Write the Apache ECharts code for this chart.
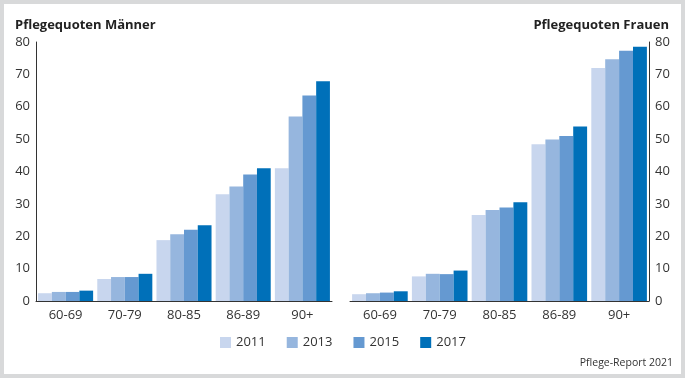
<!DOCTYPE html>
<html>
<head>
<meta charset="utf-8">
<script src="https://cdn.jsdelivr.net/npm/echarts@6/dist/echarts.min.js"></script>
<style>
  body { margin: 0; background: #d8d9da; }
  #chart {
    width: 685px;
    height: 378px;
    background: #fff;
    box-shadow: inset 0 0 0 4px #d8d9da; /* grauer Rahmen */
  }
</style>
</head>
<body>
<div id="chart"></div>
<script>
  const ageGroups = ['60-69', '70-79', '80-85', '86-89', '90+']
  const years = ['2011', '2013', '2015', '2017']
  const yearColors = ['#c8d6ee', '#96b6de', '#6599d1', '#0070b9']

  // Pflegequoten Männer, je Jahr
  const men2011 = [2.4, 6.8, 18.8, 33.0, 41.0]
  const men2013 = [2.8, 7.4, 20.6, 35.4, 57.0]
  const men2015 = [2.8, 7.4, 22.0, 39.1, 63.5]
  const men2017 = [3.2, 8.4, 23.4, 41.0, 67.9]

  // Pflegequoten Frauen, je Jahr
  const women2011 = [2.1, 7.6, 26.6, 48.4, 72.0]
  const women2013 = [2.4, 8.4, 28.1, 49.9, 74.7]
  const women2015 = [2.6, 8.3, 28.9, 51.0, 77.3]
  const women2017 = [3.0, 9.4, 30.5, 53.9, 78.5]

  const yTicks = [0, 10, 20, 30, 40, 50, 60, 70, 80]

  const menData = [men2011, men2013, men2015, men2017]
  const womenData = [women2011, women2013, women2015, women2017]

  const font = 'Open Sans'
  const axisColor = '#333'

  function xAxisFor(gridIndex) {
    return {
      type: 'category',
      gridIndex: gridIndex,
      data: ageGroups,
      axisLine: { show: true, lineStyle: { color: axisColor, width: 1 } },
      axisTick: { show: false },
      axisLabel: { color: '#333', fontSize: 13, fontFamily: font, margin: 8 },
    }
  }

  function yAxisFor(gridIndex, pos) {
    return {
      type: 'value',
      gridIndex: gridIndex,
      position: pos,
      min: yTicks[0],
      max: yTicks[yTicks.length - 1],
      interval: 10,
      axisLine: { show: true, lineStyle: { color: axisColor, width: 1 } },
      axisTick: { show: false },
      splitLine: { show: false },
      axisLabel: { color: '#333', fontSize: 13, fontFamily: font, margin: 6 },
    }
  }

  const series = []
  years.forEach((y, i) => {
    series.push({
      name: y,
      type: 'bar',
      xAxisIndex: 0,
      yAxisIndex: 0,
      data: menData[i],
      itemStyle: { color: yearColors[i] },
      barGap: '0%',
      barCategoryGap: '7%',
      silent: true,
    })
  })
  years.forEach((y, i) => {
    series.push({
      name: y,
      type: 'bar',
      xAxisIndex: 1,
      yAxisIndex: 1,
      data: womenData[i],
      itemStyle: { color: yearColors[i] },
      barGap: '0%',
      barCategoryGap: '7%',
      silent: true,
    })
  })

  const myChart = echarts.init(document.getElementById('chart'))
  myChart.setOption({
    animation: false,
    textStyle: { fontFamily: font },
    title: [
      {
        text: 'Pflegequoten Männer',
        left: 15,
        top: 19,
        padding: 0,
        textStyle: { fontSize: 13, fontWeight: 'bold', color: '#222', fontFamily: font },
      },
      {
        text: 'Pflegequoten Frauen',
        right: 16,
        top: 19,
        padding: 0,
        textStyle: { fontSize: 13, fontWeight: 'bold', color: '#222', fontFamily: font },
      },
      {
        text: 'Pflege-Report 2021',
        right: 12,
        top: 358,
        padding: 0,
        textStyle: { fontSize: 10.5, fontWeight: 'normal', color: '#333', fontFamily: font },
      },
    ],
    legend: {
      data: years,
      left: 220,
      top: 336,
      padding: 0,
      itemWidth: 11,
      itemHeight: 11,
      itemGap: 21,
      icon: 'rect',
      textStyle: { fontSize: 13, color: '#333', fontFamily: font, padding: [0, 0, 0, 0] },
    },
    grid: [
      { left: 36, right: 353, top: 42, bottom: 77 },
      { left: 350, right: 36, top: 42, bottom: 77 },
    ],
    xAxis: [xAxisFor(0), xAxisFor(1)],
    yAxis: [yAxisFor(0, 'left'), yAxisFor(1, 'right')],
    series: series,
  })
</script>
</body>
</html>
